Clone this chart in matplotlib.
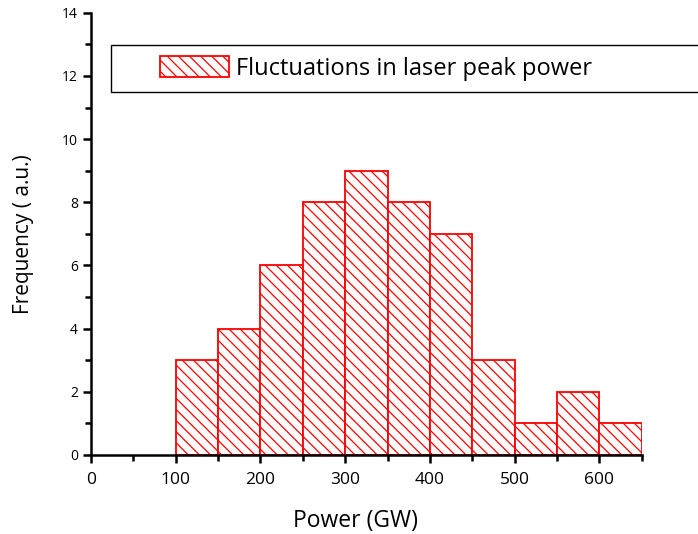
import matplotlib
matplotlib.use("Agg")
import matplotlib.pyplot as plt
from matplotlib.patches import Rectangle
from matplotlib.ticker import MultipleLocator

plt.rcParams['font.family'] = ['Open Sans', 'DejaVu Sans']
plt.rcParams['hatch.linewidth'] = 0.9

# histogram bins (left edges, GW) and counts
bin_left = [100, 150, 200, 250, 300, 350, 400, 450, 500, 550, 600]
counts = [3, 4, 6, 8, 9, 8, 7, 3, 1, 2, 1]
bin_width = 50

fig = plt.figure(figsize=(6.98, 5.34), dpi=100)
ax = fig.add_axes([0.1304, 0.148, 0.789, 0.828])

ax.bar(bin_left, counts, width=bin_width, align='edge', color='white',
       edgecolor='red', linewidth=1.3, hatch='\\\\\\',
       label='Fluctuations in laser peak power')

ax.set_xlim(0, 650)
ax.set_ylim(0, 14)
ax.xaxis.set_major_locator(MultipleLocator(100))
ax.xaxis.set_minor_locator(MultipleLocator(50))
ax.yaxis.set_major_locator(MultipleLocator(2))
ax.yaxis.set_minor_locator(MultipleLocator(1))

for s in ['top', 'right']:
    ax.spines[s].set_visible(False)
for s in ['left', 'bottom']:
    ax.spines[s].set_linewidth(1.8)

ax.tick_params(which='major', direction='out', length=6, width=1.8)
ax.tick_params(which='minor', direction='out', length=4, width=1.8)
ax.tick_params(axis='x', labelsize=12.5, pad=6)
ax.tick_params(axis='y', labelsize=10)

ax.set_xlabel('Power (GW)', fontsize=16.5)
ax.xaxis.set_label_coords(0.48, -0.122)
ax.set_ylabel('Frequency ( a.u.)', fontsize=15, labelpad=20)

# legend frame runs past the right edge of the figure
ax.add_patch(Rectangle((0.0363, 0.8213), 1.2, 0.1063, transform=ax.transAxes,
                       facecolor='white', edgecolor='black', linewidth=1.0,
                       clip_on=False, zorder=5))
leg = ax.legend(loc='center left', bbox_to_anchor=(0.1253, 0.8745),
                frameon=False, fontsize=17, handlelength=2.92, handleheight=0.97,
                handletextpad=0.3, borderpad=0, borderaxespad=0)
leg.set_zorder(6)

fig.savefig('out.png', dpi=100)
